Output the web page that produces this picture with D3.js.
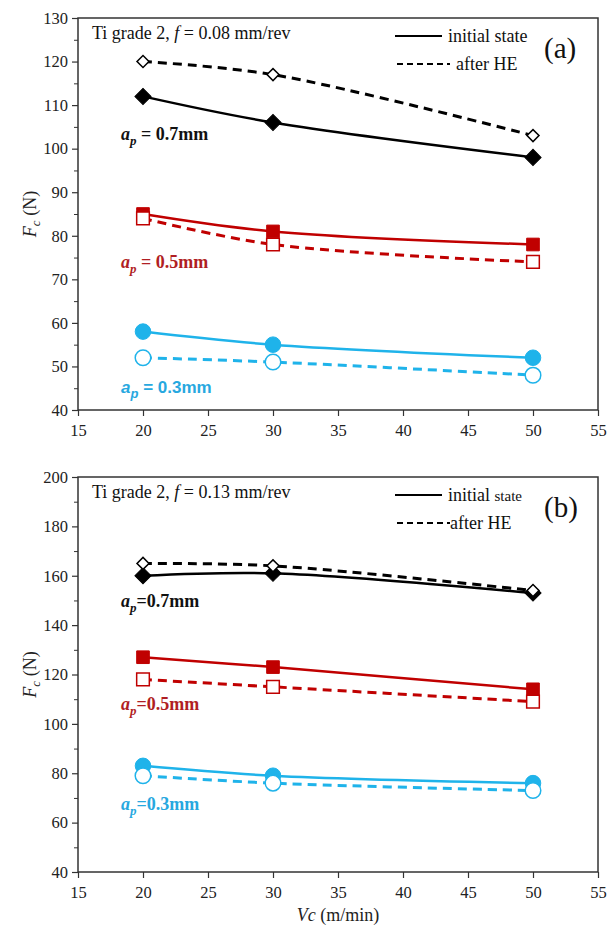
<!DOCTYPE html>
<html>
<head>
<style>
  body { margin: 0; background: #fff; }
</style>
</head>
<body>
<svg id="chart" width="608" height="929" style="font-family: 'Liberation Serif', 'DejaVu Serif', serif;"></svg>
<script src="https://cdn.jsdelivr.net/npm/d3@7"></script>
<script>

// cutting speed values
var vc = [20, 30, 50];
var xTicks = [15, 20, 25, 30, 35, 40, 45, 50, 55];

// panel (a): f = 0.08 mm/rev
var a07Init = [112, 106, 98];
var a07HE   = [120, 117, 103];
var a05Init = [85, 81, 78];
var a05HE   = [84, 78, 74];
var a03Init = [58, 55, 52];
var a03HE   = [52, 51, 48];
var aYTicks = [40, 50, 60, 70, 80, 90, 100, 110, 120, 130];

// panel (b): f = 0.13 mm/rev
var b07Init = [160, 161, 153];
var b07HE   = [165, 164, 154];
var b05Init = [127, 123, 114];
var b05HE   = [118, 115, 109];
var b03Init = [83, 79, 76];
var b03HE   = [79, 76, 73];
var bYTicks = [40, 60, 80, 100, 120, 140, 160, 180, 200];

var black = '#000', red = '#c00000', blue = '#1fb3ea';
var SERIF = "'Liberation Serif', 'DejaVu Serif', serif";
var SANS = "'Liberation Sans', Arial, sans-serif";

var svg = d3.select('#chart');

function drawPanel(p) {
  var g = svg.append('g');

  var x = d3.scaleLinear().domain([15, 55]).range([78, 598]);
  var y = d3.scaleLinear().domain(p.yDomain).range([p.bottom, p.top]);

  // minor y ticks
  g.append('g')
    .attr('transform', 'translate(78,0)')
    .call(d3.axisLeft(y).tickValues(p.minor).tickSize(4).tickFormat(''))
    .call(function(s) { s.select('.domain').remove(); s.selectAll('line').attr('stroke', '#333'); });

  var yAxis = g.append('g')
    .attr('transform', 'translate(78,0)')
    .call(d3.axisLeft(y).tickValues(p.yTicks).tickSize(6).tickPadding(4));
  yAxis.attr('font-family', null);
  yAxis.select('.domain').remove();
  yAxis.selectAll('line').attr('stroke', '#333').attr('stroke-width', 1.2);
  yAxis.selectAll('text').attr('font-size', 16.5).style('font-family', SERIF).attr('fill', '#222');

  var xAxis = g.append('g')
    .attr('transform', 'translate(0,' + p.bottom + ')')
    .call(d3.axisBottom(x).tickValues(xTicks).tickSize(6).tickPadding(8));
  xAxis.attr('font-family', null);
  xAxis.select('.domain').remove();
  xAxis.selectAll('line').attr('stroke', '#333').attr('stroke-width', 1.2);
  xAxis.selectAll('text').attr('font-size', 16.5).style('font-family', SERIF).attr('fill', '#222');

  // frame
  g.append('rect')
    .attr('x', 78).attr('y', p.top)
    .attr('width', 520).attr('height', p.bottom - p.top)
    .attr('fill', 'none').attr('stroke', '#333').attr('stroke-width', 1.5);

  var line = d3.line()
    .x(function(d, i) { return x(vc[i]); })
    .y(function(d) { return y(d); })
    .curve(d3.curveCatmullRom.alpha(0.5));

  p.series.forEach(function(s) {
    g.append('path')
      .datum(s.values)
      .attr('d', line)
      .attr('fill', 'none')
      .attr('stroke', s.color)
      .attr('stroke-width', s.dashed ? 3 : 2.5)
      .attr('stroke-dasharray', s.dashed ? '9,6' : null);
  });

  // markers: initial first, after HE on top
  p.series.forEach(function(s) {
    var size, type = d3.symbolSquare, rot = 0;
    if (s.shape === 'diamond') { size = s.dashed ? 72 : 130; rot = 45; }
    else if (s.shape === 'square') { size = 160; }
    else { type = d3.symbolCircle; size = 190; }
    g.selectAll(null)
      .data(s.values)
      .enter()
      .append('path')
      .attr('transform', function(d, i) { return 'translate(' + x(vc[i]) + ',' + y(d) + ') rotate(' + rot + ')'; })
      .attr('d', d3.symbol().type(type).size(size))
      .attr('fill', s.dashed ? '#fff' : s.color)
      .attr('stroke', s.color)
      .attr('stroke-width', s.dashed ? 1.5 : 1);
  });

  // title
  var t = g.append('text').attr('x', 92).attr('y', p.top + 21).attr('font-size', 18).attr('fill', '#111')
    .style('font-family', SERIF);
  t.append('tspan').text(p.titlePre);
  t.append('tspan').attr('font-style', 'italic').text('f');
  t.append('tspan').text(p.titlePost);

  // legend
  g.append('line').attr('x1', 395).attr('x2', 442).attr('y1', p.top + 18).attr('y2', p.top + 18)
    .attr('stroke', '#000').attr('stroke-width', 2);
  g.append('line').attr('x1', 397).attr('x2', 450).attr('y1', p.top + 46).attr('y2', p.top + 46)
    .attr('stroke', '#000').attr('stroke-width', 2).attr('stroke-dasharray', '6,4');
  var l1 = g.append('text').attr('x', 448).attr('y', p.top + 24).attr('font-size', 18).attr('fill', '#111')
    .style('font-family', SERIF);
  l1.append('tspan').text('initial ');
  l1.append('tspan').attr('font-size', p.stateSize).text('state');
  g.append('text').attr('x', p.heX).attr('y', p.top + 52).attr('font-size', 18).attr('fill', '#111')
    .style('font-family', SERIF).text('after HE');
  g.append('text').attr('x', 544).attr('y', p.top + 40).attr('font-size', 29).attr('fill', '#111')
    .style('font-family', SERIF).text(p.tag);

  // depth-of-cut labels
  p.labels.forEach(function(l) {
    var tx = g.append('text').attr('x', 121).attr('y', l.y).attr('font-size', l.sans ? 17 : 18)
      .attr('font-weight', 'bold').attr('fill', l.color)
      .style('font-family', l.sans ? SANS : SERIF);
    tx.append('tspan').attr('font-style', 'italic').text('a');
    tx.append('tspan').attr('font-style', 'italic').attr('font-size', 13).attr('dy', 5).text('p');
    tx.append('tspan').attr('dy', -5).text(p.eq + l.text);
  });

  // y title
  var cy = (p.top + p.bottom) / 2;
  var yt = g.append('text').attr('transform', 'translate(36,' + cy + ') rotate(-90)')
    .attr('text-anchor', 'middle').attr('font-size', 18).attr('fill', '#222')
    .style('font-family', SERIF);
  yt.append('tspan').attr('font-style', 'italic').text('F');
  yt.append('tspan').attr('font-style', 'italic').attr('font-size', 13).attr('dy', 4).text('c');
  yt.append('tspan').attr('dy', -4).text(' (N)');
}

drawPanel({
  top: 18, bottom: 410, yDomain: [40, 130], yTicks: aYTicks,
  minor: d3.range(45, 130, 10),
  titlePre: 'Ti grade 2,  ', titlePost: ' = 0.08 mm/rev', stateSize: 18, heX: 456, tag: '(a)', eq: ' = ',
  series: [
    { values: a07Init, color: black, shape: 'diamond', dashed: false },
    { values: a05Init, color: red, shape: 'square', dashed: false },
    { values: a03Init, color: blue, shape: 'circle', dashed: false },
    { values: a07HE, color: black, shape: 'diamond', dashed: true },
    { values: a05HE, color: red, shape: 'square', dashed: true },
    { values: a03HE, color: blue, shape: 'circle', dashed: true }
  ],
  labels: [
    { text: '0.7mm', y: 140, color: '#111' },
    { text: '0.5mm', y: 268, color: '#b01e23' },
    { text: '0.3mm', y: 393, color: '#27a8df', sans: true }
  ]
});

drawPanel({
  top: 477, bottom: 872, yDomain: [40, 200], yTicks: bYTicks,
  minor: d3.range(50, 200, 20),
  titlePre: 'Ti grade 2, ', titlePost: ' = 0.13 mm/rev', stateSize: 15, heX: 450, tag: '(b)', eq: '=',
  series: [
    { values: b07Init, color: black, shape: 'diamond', dashed: false },
    { values: b05Init, color: red, shape: 'square', dashed: false },
    { values: b03Init, color: blue, shape: 'circle', dashed: false },
    { values: b07HE, color: black, shape: 'diamond', dashed: true },
    { values: b05HE, color: red, shape: 'square', dashed: true },
    { values: b03HE, color: blue, shape: 'circle', dashed: true }
  ],
  labels: [
    { text: '0.7mm', y: 607, color: '#111' },
    { text: '0.5mm', y: 710, color: '#b01e23' },
    { text: '0.3mm', y: 810, color: '#27a8df' }
  ]
});

// x title
var xt = svg.append('text').attr('x', 338).attr('y', 921).attr('text-anchor', 'middle')
  .attr('font-size', 18).attr('fill', '#222').style('font-family', SERIF);
xt.append('tspan').attr('font-style', 'italic').text('Vc');
xt.append('tspan').text(' (m/min)');

</script>
</body>
</html>
